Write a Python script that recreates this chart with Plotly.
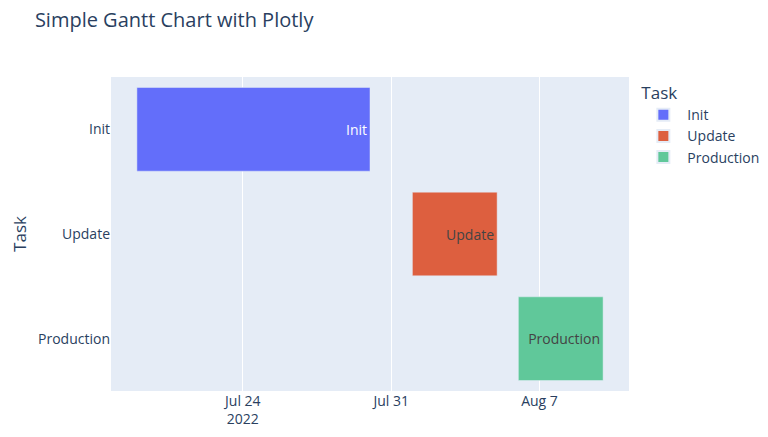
import pandas as pd
import plotly.express as px

tasks = ["Init", "Update", "Production"]
starts = ["2022-07-19", "2022-08-01", "2022-08-06"]
finishes = ["2022-07-30", "2022-08-05", "2022-08-10"]
colors = ["#636efa", "#dd5f3f", "#60c89a"]

df = pd.DataFrame({"Task": tasks, "Start": starts, "Finish": finishes})

fig = px.timeline(df, x_start="Start", x_end="Finish", y="Task",
                  color="Task", text="Task",
                  color_discrete_sequence=colors,
                  title="Simple Gantt Chart with Plotly")
fig.update_xaxes(automargin=False)
fig.update_yaxes(automargin=False)
fig.update_layout(
    width=768, height=437,
    font=dict(size=14),
    margin=dict(l=103, t=69, b=54, r=145),
    title=dict(y=0.988, yanchor="top", x=0.035, pad=dict(t=0)),
    legend=dict(itemwidth=38, x=1.02),
)
fig.layout.legend.itemsizing = "constant"

fig.write_html("out.html")
